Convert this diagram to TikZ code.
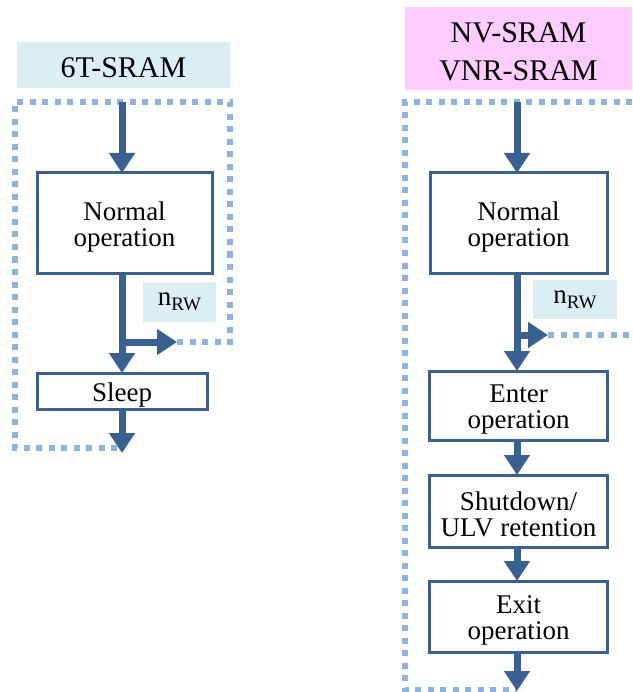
\documentclass[tikz,border=0pt]{standalone}
\usepackage{fontspec}
\setmainfont{Liberation Serif}
\usetikzlibrary{arrows.meta}
\definecolor{boxblue}{HTML}{3A6091}
\definecolor{dotblue}{HTML}{8DB3E2}
\definecolor{labfill}{HTML}{DAEEF3}
\definecolor{pinkfill}{HTML}{FFCCFF}
\newcommand{\nrw}{n\raisebox{-5pt}{\fontsize{19}{19}\selectfont RW}}
% a tall strut on the first line lowers the text block a little inside its box
\newcommand{\lowstrut}{\rule{0pt}{26pt}}
\begin{document}
\begin{tikzpicture}[x=1pt,y=-1pt,
  stepbox/.style={draw=boxblue, line width=3pt, fill=white, inner sep=0pt, outer sep=0pt,
    align=center, font=\fontsize{27}{26}\selectfont},
  header/.style={inner sep=0pt, outer sep=0pt, align=center, font=\fontsize{30}{38}\selectfont},
  tag/.style={fill=labfill, inner sep=0pt, outer sep=0pt, font=\fontsize{27}{26}\selectfont},
  flow/.style={draw=boxblue, line width=7pt, -{Triangle[width=25pt,length=20pt]}},
  loop/.style={draw=dotblue, line width=5.5pt, dash pattern=on 6pt off 6.5pt}]
\useasboundingbox (0,0) rectangle (632,692);

% ---------------- 6T-SRAM ----------------
\node[header, fill=labfill, minimum width=213pt, minimum height=46pt] (h1) at (123.5,65) {\lowstrut 6T-SRAM};
\node[tag, minimum width=73pt, minimum height=40pt] (r1) at (179.5,301.5) {\nrw};

\coordinate (t1) at (122,102);
\coordinate (b1) at (122,342);
\coordinate (e1) at (177,342);
\coordinate (o1) at (122,453);

\draw[loop] (e1) -- (230,342) -- (230,102) -- (15,102) -- (15,448) -- (122,448);

\node[stepbox, minimum width=175pt, minimum height=100pt] (n1) at (124.5,223) {\lowstrut Normal\\operation};
\node[stepbox, minimum width=170pt, minimum height=36pt] (s1) at (122,391) {\lowstrut Sleep};

\draw[flow] (t1) -- (t1 |- n1.north);
\draw[flow] (t1 |- n1.south) -- (t1 |- s1.north);
\draw[flow] (b1) -- (e1);
\draw[flow] (s1.south) -- (o1);

% ---------------- NV-SRAM / VNR-SRAM ----------------
\node[header, fill=pinkfill, minimum width=227pt, minimum height=83pt] (h2) at (518.5,48.5) {\lowstrut NV-SRAM\\VNR-SRAM};
\node[tag, minimum width=84pt, minimum height=39pt] (r2) at (575,299.5) {\nrw};

\coordinate (t2) at (517,102);
\coordinate (b2) at (517,335);
\coordinate (e2) at (548,335);
\coordinate (o2) at (517,691);

\draw[loop] (e2) -- (632,335);
\draw[loop] (632,102) -- (405,102) -- (405,690) -- (517,690);

\node[stepbox, minimum width=177pt, minimum height=100pt] (n2) at (518.5,223) {\lowstrut Normal\\operation};
\node[stepbox, minimum width=178pt, minimum height=69pt] (en) at (518.5,405.5) {\lowstrut Enter\\operation};
\node[stepbox, minimum width=178pt, minimum height=72pt] (sd) at (518.5,511) {\lowstrut Shutdown/\\ULV retention};
\node[stepbox, minimum width=178pt, minimum height=71pt] (ex) at (518.5,616.5) {\lowstrut Exit\\operation};

\draw[flow] (t2) -- (t2 |- n2.north);
\draw[flow] (t2 |- n2.south) -- (t2 |- en.north);
\draw[flow] (b2) -- (e2);
\draw[flow] (t2 |- en.south) -- (t2 |- sd.north);
\draw[flow] (t2 |- sd.south) -- (t2 |- ex.north);
\draw[flow] (t2 |- ex.south) -- (o2);
\end{tikzpicture}
\end{document}
